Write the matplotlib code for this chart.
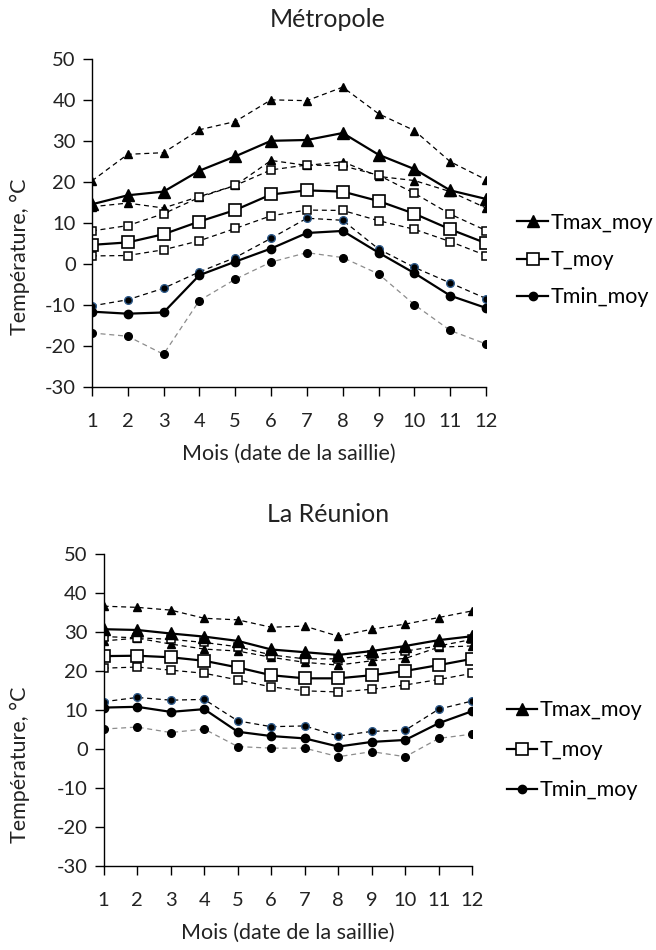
import matplotlib.pyplot as plt

plt.rcParams['font.family'] = ['Lato', 'DejaVu Sans']
plt.rcParams['axes.unicode_minus'] = False

mois = list(range(1, 13))

# Métropole
met_tmax = [14.6, 16.8, 17.7, 22.8, 26.3, 30.1, 30.3, 32.0, 26.7, 23.2, 18.0, 15.9]
met_tmax_hi = [20.3, 26.8, 27.2, 32.8, 34.8, 40.1, 39.9, 43.2, 36.7, 32.6, 25.0, 20.6]
met_tmax_lo = [14.0, 14.9, 13.7, 16.5, 19.2, 25.3, 24.1, 25.0, 21.4, 20.4, 17.7, 13.7]
met_tmoy = [4.7, 5.3, 7.3, 10.4, 13.2, 17.0, 18.0, 17.7, 15.4, 12.3, 8.5, 5.1]
met_tmoy_hi = [8.1, 9.4, 12.3, 16.3, 19.2, 23.0, 24.2, 24.0, 21.7, 17.3, 12.2, 8.2]
met_tmoy_lo = [2.0, 2.1, 3.5, 5.7, 8.7, 11.8, 13.2, 13.1, 10.6, 8.5, 5.5, 2.1]
met_tmin = [-11.6, -12.1, -11.8, -2.7, 0.6, 3.8, 7.6, 8.1, 2.8, -2.2, -7.7, -10.7]
met_tmin_hi = [-10.2, -8.7, -5.9, -1.9, 1.6, 6.3, 11.2, 10.7, 3.7, -0.8, -4.6, -8.4]
met_tmin_lo = [-16.8, -17.6, -22.0, -8.9, -3.7, 0.5, 2.8, 1.6, -2.4, -9.9, -16.2, -19.5]

# La Réunion
reu_tmax = [30.8, 30.6, 29.7, 28.9, 27.8, 25.6, 24.9, 24.2, 25.2, 26.5, 28.0, 29.0]
reu_tmax_hi = [36.7, 36.4, 35.7, 33.6, 33.2, 31.3, 31.6, 29.0, 30.8, 32.1, 33.8, 35.5]
reu_tmax_lo = [27.8, 28.5, 27.0, 25.7, 25.2, 23.6, 22.3, 21.6, 22.7, 23.3, 26.2, 26.5]
reu_tmoy = [23.9, 24.0, 23.6, 22.7, 21.0, 19.0, 18.2, 18.2, 19.0, 20.1, 21.6, 23.2]
reu_tmoy_hi = [28.9, 28.6, 28.2, 27.4, 26.3, 24.2, 23.2, 23.2, 24.2, 25.2, 26.5, 28.2]
reu_tmoy_lo = [20.8, 21.1, 20.3, 19.5, 17.8, 16.0, 15.0, 14.7, 15.4, 16.5, 17.9, 19.5]
reu_tmin = [10.7, 10.9, 9.6, 10.3, 4.5, 3.4, 2.8, 0.7, 1.9, 2.4, 6.7, 9.8]
reu_tmin_hi = [12.2, 13.3, 12.6, 12.8, 7.3, 5.8, 6.0, 3.4, 4.6, 4.9, 10.3, 12.4]
reu_tmin_lo = [5.2, 5.7, 4.3, 5.2, 0.7, 0.3, 0.3, -1.9, -0.6, -1.9, 2.8, 3.9]


def draw_panel(ax, tmax, tmax_hi, tmax_lo, tmoy, tmoy_hi, tmoy_lo, tmin, tmin_hi, tmin_lo,
               leg_pos, leg_spacing):
    dash = dict(linestyle=(0, (4, 3)), linewidth=0.9)
    # dashed envelopes
    ax.plot(mois, tmax_hi, color='black', marker='^', markersize=6, **dash)
    ax.plot(mois, tmax_lo, color='black', marker='^', markersize=6, **dash)
    ax.plot(mois, tmoy_hi, color='black', marker='s', markersize=5.5, markerfacecolor='white',
            markeredgecolor='black', markeredgewidth=1.1, **dash)
    ax.plot(mois, tmoy_lo, color='black', marker='s', markersize=5.5, markerfacecolor='white',
            markeredgecolor='black', markeredgewidth=1.1, **dash)
    ax.plot(mois, tmin_hi, color='black', marker='o', markersize=5.5, markerfacecolor='black',
            markeredgecolor='#2e5a8a', markeredgewidth=1.0, **dash)
    ax.plot(mois, tmin_lo, color='#8c8c8c', marker='o', markersize=5.5, markerfacecolor='black',
            markeredgecolor='black', **dash)

    # mean curves
    l1, = ax.plot(mois, tmax, color='black', linewidth=1.6, marker='^', markersize=8, label='Tmax_moy')
    l2, = ax.plot(mois, tmoy, color='black', linewidth=1.6, marker='s', markersize=8,
                  markerfacecolor='white', markeredgewidth=1.2, label='T_moy')
    l3, = ax.plot(mois, tmin, color='black', linewidth=1.6, marker='o', markersize=6, label='Tmin_moy')

    ax.set_xlim(1, 12)
    ax.set_ylim(-30, 50)
    ax.set_xticks(mois)
    ax.set_yticks(range(-30, 51, 10))
    ax.spines['top'].set_visible(False)
    ax.spines['right'].set_visible(False)
    ax.spines['left'].set_linewidth(1.0)
    ax.spines['bottom'].set_linewidth(1.0)
    ax.tick_params(axis='both', direction='out', length=6.5, width=1.0, labelsize=14.5,
                   colors='black', labelcolor='#222222')
    ax.tick_params(axis='x', pad=12)
    ax.tick_params(axis='y', pad=5)
    ax.set_xlabel('Mois (date de la saillie)', fontsize=15.5, labelpad=10, color='#222222')
    ax.legend(handles=[l1, l2, l3], loc='center left', bbox_to_anchor=leg_pos,
              frameon=False, fontsize=15.5, handlelength=1.4, handletextpad=0.12,
              labelspacing=leg_spacing, borderaxespad=0.6)


fig = plt.figure(figsize=(6.56, 9.5), dpi=100)
ax1 = fig.add_axes([0.140, 0.5926, 0.601, 0.345])
ax2 = fig.add_axes([0.158, 0.0881, 0.562, 0.3284])

draw_panel(ax1, met_tmax, met_tmax_hi, met_tmax_lo, met_tmoy, met_tmoy_hi, met_tmoy_lo,
           met_tmin, met_tmin_hi, met_tmin_lo, (1.025, 0.387), 0.8)
draw_panel(ax2, reu_tmax, reu_tmax_hi, reu_tmax_lo, reu_tmoy, reu_tmoy_hi, reu_tmoy_lo,
           reu_tmin, reu_tmin_hi, reu_tmin_lo, (1.035, 0.372), 0.92)

# titles centred on the whole chart area, like Excel
fig.text(0.5, 0.979, 'Métropole', ha='center', va='center', fontsize=18, color='#222222')
fig.text(0.5, 0.458, 'La Réunion', ha='center', va='center', fontsize=18, color='#222222')
fig.text(0.031, 0.7295, 'Température, °C', rotation=90, ha='center', va='center',
         fontsize=15.5, color='#222222')
fig.text(0.031, 0.195, 'Température, °C', rotation=90, ha='center', va='center',
         fontsize=15.5, color='#222222')

fig.savefig('out.png', dpi=100)
